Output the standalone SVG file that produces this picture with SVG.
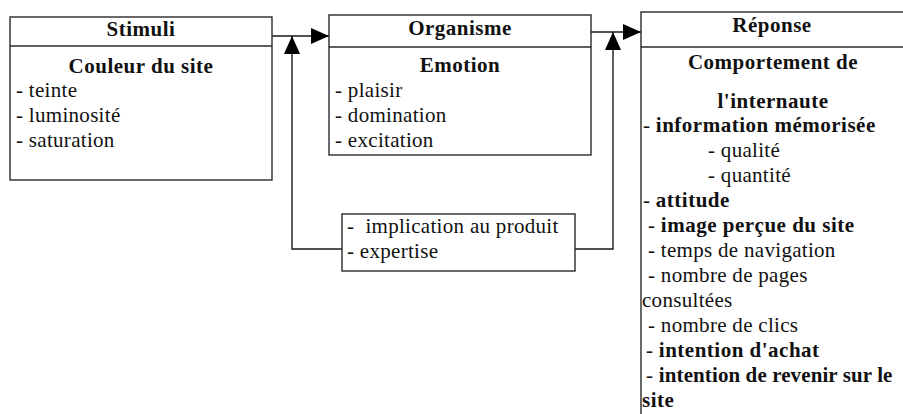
<svg xmlns="http://www.w3.org/2000/svg" width="903" height="414" viewBox="0 0 903 414">
<style>
.box{fill:#fff;stroke:#2a2a2a;stroke-width:1.4}
.div{stroke:#2a2a2a;stroke-width:1.4}
.conn{fill:none;stroke:#1a1a1a;stroke-width:1.4}
text{font-family:'Liberation Serif','Times New Roman',serif;font-size:21px;fill:#111;letter-spacing:0.3px}
.b{font-weight:bold;letter-spacing:0.5px}
.bt{font-weight:bold;letter-spacing:0.1px}
.c{text-anchor:middle}
</style>
<defs>
<marker id="ah" viewBox="0 0 18 16" refX="18" refY="8" markerWidth="18" markerHeight="16" markerUnits="userSpaceOnUse" orient="auto">
<path d="M0,0 L18,8 L0,16 z" fill="#000"/>
</marker>
</defs>
<g id="connectors">
<line class="conn" x1="272" y1="36" x2="329" y2="36" marker-end="url(#ah)"/>
<line class="conn" x1="591" y1="32" x2="641" y2="32" marker-end="url(#ah)"/>
<polyline class="conn" points="342,249 292,249 292,36" marker-end="url(#ah)"/>
<polyline class="conn" points="575,249 613,249 613,32" marker-end="url(#ah)"/>
</g>
<g id="stimuli">
<rect class="box" x="10" y="17" width="262" height="163"/>
<line class="div" x1="10" y1="46" x2="272" y2="46"/>
<text class="b c" x="141" y="36">Stimuli</text>
<text class="b c" x="141" y="73">Couleur du site</text>
<text x="16" y="97">- teinte</text>
<text x="16" y="122">- luminosité</text>
<text x="16" y="147">- saturation</text>
</g>
<g id="organisme">
<rect class="box" x="329" y="15" width="262" height="140"/>
<line class="div" x1="329" y1="47" x2="591" y2="47"/>
<text class="b c" x="460" y="35">Organisme</text>
<text class="b c" x="460" y="72">Emotion</text>
<text x="335" y="97">- plaisir</text>
<text x="335" y="122">- domination</text>
<text x="335" y="147">- excitation</text>
</g>
<g id="reponse">
<rect class="box" x="641" y="12" width="263" height="420"/>
<line class="div" x1="641" y1="47" x2="903" y2="47"/>
<text class="b c" x="772" y="32">Réponse</text>
<text class="b c" x="773" y="69">Comportement de</text>
<text class="b c" x="773" y="108">l'internaute</text>
<text x="643" y="132">- <tspan class="b">information mémorisée</tspan></text>
<text x="708" y="157">- qualité</text>
<text x="708" y="182">- quantité</text>
<text x="643" y="207">- <tspan class="b">attitude</tspan></text>
<text x="648" y="232">- <tspan class="b">image perçue du site</tspan></text>
<text x="648" y="257">- temps de navigation</text>
<text x="648" y="282">- nombre de pages</text>
<text x="642" y="307">consultées</text>
<text x="648" y="332">- nombre de clics</text>
<text x="646" y="357">- <tspan class="b">intention d'achat</tspan></text>
<text x="646" y="382">- <tspan class="bt">intention de revenir sur le</tspan></text>
<text x="642" y="407" class="b">site</text>
</g>
<g id="moderateurs">
<rect class="box" x="342" y="214" width="233" height="57"/>
<text x="347" y="233" xml:space="preserve">-  implication au produit</text>
<text x="347" y="258">- expertise</text>
</g>
</svg>
